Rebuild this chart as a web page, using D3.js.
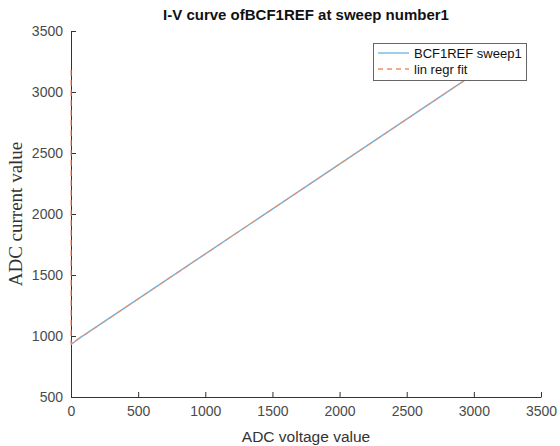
<!DOCTYPE html>
<html><head><meta charset="utf-8">
<script src="https://cdn.jsdelivr.net/npm/d3@7"></script>
<style>body{margin:0;background:#fff}svg{display:block}</style>
</head><body>
<svg id="c" width="560" height="446"></svg>
<script>
const titleText = "I-V curve ofBCF1REF at sweep number1";
const xLabel = "ADC voltage value";
const yLabel = "ADC current value";
const xTicks = [0, 500, 1000, 1500, 2000, 2500, 3000, 3500];
const yTicks = [500, 1000, 1500, 2000, 2500, 3000, 3500];
const seriesNames = ["BCF1REF sweep1", "lin regr fit"];
const sweepX = [0, 60, 130, 3050];
const sweepY = [930, 980, 1032, 3183];
const fitX = [0, 0, 3050];
const fitY = [3180, 935, 3183];

const svg = d3.select("#c");
const m = {l: 71, r: 541, t: 31, b: 397};
const x = d3.scaleLinear().domain([0, 3500]).range([m.l, m.r]);
const y = d3.scaleLinear().domain([500, 3500]).range([m.b, m.t]);
const axisCol = "#333";
const font = "'Liberation Sans', Arial, sans-serif";

const line = d3.line().x(d => x(d[0])).y(d => y(d[1]));
const sweep = sweepX.map((v, i) => [v, sweepY[i]]);
const fit = fitX.map((v, i) => [v, fitY[i]]);

// axes
const gx = svg.append("g").attr("transform", `translate(0,${m.b})`)
  .call(d3.axisBottom(x).tickValues(xTicks).tickFormat(d3.format("d")).tickSizeInner(-5).tickSizeOuter(0).tickPadding(9));
const gy = svg.append("g").attr("transform", `translate(${m.l},0)`)
  .call(d3.axisLeft(y).tickValues(yTicks).tickFormat(d3.format("d")).tickSizeInner(-5).tickSizeOuter(0).tickPadding(8));
[gx, gy].forEach(g => {
  g.select(".domain").attr("stroke", axisCol).attr("stroke-width", 1);
  g.selectAll(".tick line").attr("stroke", axisCol);
  g.selectAll(".tick text").attr("fill", "#4a4a4a").style("font-family", font).style("font-size", "14px");
});

// data lines
svg.append("path").datum(sweep).attr("d", line).attr("fill", "none")
  .attr("stroke", "#6cb2de").attr("stroke-width", 1.4);
svg.append("path").datum(fit).attr("d", line).attr("fill", "none")
  .attr("stroke", "#ef8f68").attr("stroke-width", 1.1).attr("stroke-dasharray", "6,4");

// title & labels
svg.append("text").attr("x", (m.l + m.r) / 2).attr("y", 20).attr("text-anchor", "middle")
  .style("font-family", font).style("font-weight", "bold").style("font-size", "15px").attr("fill", "#111").text(titleText);
svg.append("text").attr("x", (m.l + m.r) / 2).attr("y", 442).attr("text-anchor", "middle")
  .style("font-family", font).style("font-size", "15.5px").attr("fill", "#333").text(xLabel);
svg.append("text").attr("transform", `translate(22,${(m.t + m.b) / 2}) rotate(-90)`).attr("text-anchor", "middle")
  .style("font-family", "'Liberation Serif', 'Times New Roman', serif").style("font-size", "19px").attr("fill", "#333").text(yLabel);

// legend
const lg = svg.append("g");
lg.append("rect").attr("x", 373.5).attr("y", 43.5).attr("width", 153).attr("height", 37)
  .attr("fill", "#fff").attr("stroke", "#666").attr("stroke-width", 1);
const cols = ["#6cb2de", "#ef8f68"];
const dash = [null, "5,4"];
seriesNames.forEach((n, i) => {
  const yy = 53 + i * 16;
  lg.append("line").attr("x1", 378).attr("x2", 409).attr("y1", yy).attr("y2", yy)
    .attr("stroke", cols[i]).attr("stroke-width", 1.3).attr("stroke-dasharray", dash[i]);
  lg.append("text").attr("x", 414).attr("y", yy + 5).style("font-family", font).style("font-size", "13px")
    .attr("fill", "#111").text(n);
});
</script>
</body></html>
